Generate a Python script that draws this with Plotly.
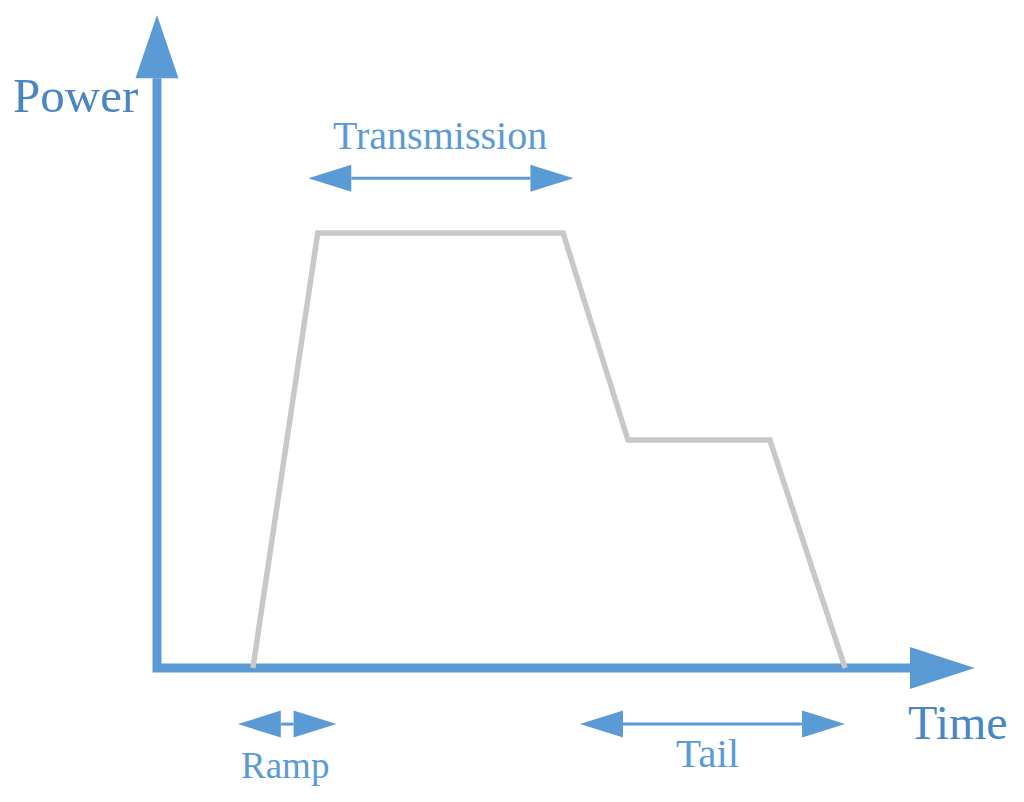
import plotly.graph_objects as go

# power profile (time in arbitrary units, power normalised to peak)
time = [1.02, 1.71, 4.32, 5.01, 6.52, 7.32]
power = [0.0, 1.0, 1.0, 0.524, 0.524, 0.0]

# phase spans along the time axis
span_labels = ["Transmission", "Ramp", "Tail"]
span_start = [1.61, 0.86, 4.50]
span_end = [4.43, 1.91, 7.32]

BLUE = "#5b9bd5"
DARK = "#4a86c2"
GRAY = "#c8c8c8"
FONT = "Liberation Serif"

# pixels per unit, used to size the arrow heads
PX_T = 94.0
PX_P = 435.0
# origin in page pixels (the page body adds an 8px offset)
OX, OY = 157 - 8, 668 - 8


def tri(tip_x, tip_y, base_x, base_y, half, vertical=False):
    if vertical:
        xs = [tip_x, base_x - half, base_x + half, tip_x]
        ys = [tip_y, base_y, base_y, tip_y]
    else:
        xs = [tip_x, base_x, base_x, tip_x]
        ys = [tip_y, base_y - half, base_y + half, tip_y]
    return go.Scatter(x=xs, y=ys, mode="lines", fill="toself", fillcolor=BLUE,
                      line=dict(width=0, color=BLUE), hoverinfo="skip")


fig = go.Figure()

# axes drawn as arrows
y_top, y_tip = 1.356, 1.501
x_end, x_tip = 8.01, 8.70
fig.add_trace(go.Scatter(x=[0, 0, x_end], y=[y_top, 0, 0], mode="lines",
                         line=dict(color=BLUE, width=9), hoverinfo="skip"))
fig.add_trace(tri(0, y_tip, 0, y_top, 21.5 / PX_T, vertical=True))
fig.add_trace(tri(x_tip, 0, x_end, 0, 21 / PX_P))

# power curve
fig.add_trace(go.Scatter(x=time, y=power, mode="lines",
                         line=dict(color=GRAY, width=5.5), hoverinfo="skip"))

# span arrows
levels = {"Transmission": 1.126, "Ramp": -0.129, "Tail": -0.129}
head_len = 43 / PX_T
head_half = 13.5 / PX_P
for lab, a, b in zip(span_labels, span_start, span_end):
    yl = levels[lab]
    fig.add_trace(go.Scatter(x=[a + head_len, b - head_len], y=[yl, yl], mode="lines",
                             line=dict(color=BLUE, width=3), hoverinfo="skip"))
    fig.add_trace(tri(a, yl, a + head_len, yl, head_half))
    fig.add_trace(tri(b, yl, b - head_len, yl, head_half))

annos = [
    dict(text="Transmission", x=(span_start[0] + span_end[0]) / 2 - 0.01, y=1.225, size=40, color=BLUE),
    dict(text="Ramp", x=(span_start[1] + span_end[1]) / 2 - 0.02, y=-0.225, size=37, color=BLUE),
    dict(text="Tail", x=(span_start[2] + span_end[2]) / 2 - 0.05, y=-0.195, size=41, color=BLUE),
    dict(text="Power", x=-0.872, y=1.315, size=49, color=DARK),
    dict(text="Time", x=8.52, y=-0.126, size=48, color=DARK),
]
for a in annos:
    fig.add_annotation(x=a["x"], y=a["y"], text=a["text"], showarrow=False,
                       xanchor="center", yanchor="middle",
                       font=dict(family=FONT, size=a["size"], color=a["color"]))

fig.update_xaxes(range=[-OX / PX_T, (1024 - OX) / PX_T], visible=False)
fig.update_yaxes(range=[-(802 - OY) / PX_P, OY / PX_P], visible=False)
fig.update_layout(width=1024, height=802, margin=dict(l=0, r=0, t=0, b=0),
                  plot_bgcolor="white", paper_bgcolor="white", showlegend=False)

fig.write_html("out.html")
